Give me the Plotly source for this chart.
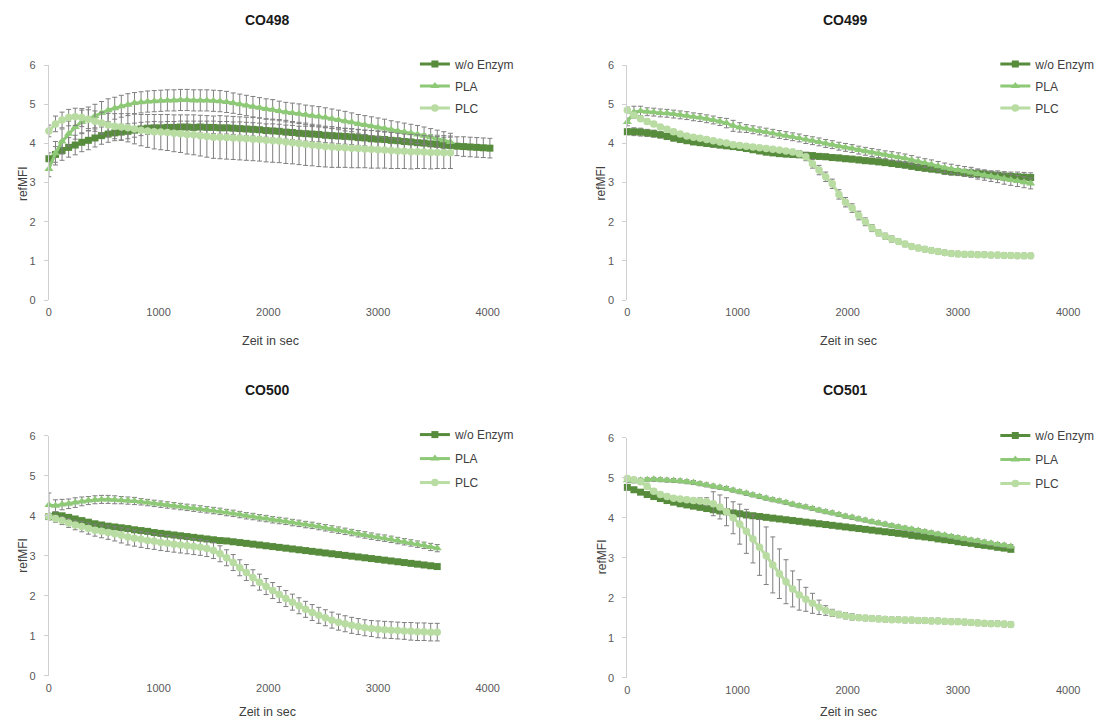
import plotly.graph_objects as go

W, H = 1115, 724          # target picture size
OFF = 8                   # default page margin of the html body
FW, FH = W - OFF, H - OFF # figure size so that it fills the window exactly
STEP = 60  # seconds between readings

SERIES_NAMES = ["w/o Enzym", "PLA", "PLC"]
COLORS = ["#578c3c", "#8ec977", "#b8dca2"]
SYMBOLS = ["square", "triangle-up", "circle"]
X_TICKS = [0, 1000, 2000, 3000, 4000]
Y_TICKS = [0, 1, 2, 3, 4, 5, 6]
TITLES = ["CO498", "CO499", "CO500", "CO501"]
X_TITLE = "Zeit in sec"
Y_TITLE = "refMFI"

# ---------------- CO498 ----------------
co498_wo = [3.61, 3.72, 3.82, 3.90, 3.96, 4.03, 4.08, 4.14, 4.20, 4.24,
            4.27, 4.29, 4.31, 4.34, 4.37, 4.39, 4.40, 4.40, 4.41, 4.41,
            4.42, 4.42, 4.41, 4.42, 4.41, 4.41, 4.40, 4.40, 4.39, 4.38,
            4.37, 4.36, 4.35, 4.33, 4.32, 4.31, 4.29, 4.28, 4.26, 4.25,
            4.24, 4.23, 4.21, 4.20, 4.19, 4.18, 4.17, 4.15, 4.14, 4.12,
            4.11, 4.10, 4.08, 4.07, 4.05, 4.04, 4.02, 4.01, 3.99, 3.98,
            3.96, 3.95, 3.93, 3.92, 3.91, 3.90, 3.89, 3.88]
co498_wo_err = [0.15, 0.20, 0.25, 0.25, 0.25, 0.24, 0.24, 0.23, 0.22, 0.21,
                0.20, 0.20, 0.19, 0.18, 0.17, 0.16, 0.16, 0.15, 0.15, 0.15,
                0.15, 0.15, 0.16, 0.15, 0.16, 0.16, 0.16, 0.16, 0.16, 0.17,
                0.17, 0.17, 0.17, 0.17, 0.18, 0.18, 0.18, 0.18, 0.18, 0.19,
                0.19, 0.19, 0.19, 0.19, 0.20, 0.20, 0.20, 0.20, 0.20, 0.21,
                0.21, 0.21, 0.21, 0.22, 0.22, 0.22, 0.22, 0.23, 0.23, 0.23,
                0.24, 0.24, 0.24, 0.25, 0.25, 0.25, 0.25, 0.25]
co498_pla = [3.35, 3.75, 4.05, 4.25, 4.42, 4.55, 4.63, 4.70, 4.78, 4.85,
             4.90, 4.95, 4.99, 5.03, 5.05, 5.07, 5.08, 5.09, 5.10, 5.10,
             5.11, 5.11, 5.10, 5.10, 5.10, 5.09, 5.08, 5.06, 5.03, 5.00,
             4.97, 4.94, 4.91, 4.88, 4.86, 4.83, 4.80, 4.78, 4.76, 4.73,
             4.71, 4.69, 4.66, 4.63, 4.60, 4.57, 4.54, 4.50, 4.47, 4.44,
             4.41, 4.38, 4.35, 4.32, 4.29, 4.26, 4.23, 4.20, 4.16, 4.12,
             4.08, 4.04]
co498_pla_err = [0.20, 0.30, 0.32, 0.32, 0.31, 0.30, 0.30, 0.30, 0.29, 0.29,
                 0.28, 0.28, 0.28, 0.27, 0.27, 0.27, 0.27, 0.27, 0.27, 0.27,
                 0.27, 0.27, 0.27, 0.27, 0.27, 0.27, 0.27, 0.27, 0.26, 0.26,
                 0.26, 0.26, 0.26, 0.26, 0.26, 0.25, 0.25, 0.25, 0.25, 0.25,
                 0.25, 0.25, 0.25, 0.25, 0.25, 0.25, 0.24, 0.24, 0.24, 0.24,
                 0.24, 0.24, 0.23, 0.23, 0.23, 0.23, 0.23, 0.22, 0.22, 0.22,
                 0.22, 0.22]
co498_plc = [4.32, 4.50, 4.60, 4.66, 4.68, 4.66, 4.62, 4.57, 4.52, 4.47,
             4.44, 4.42, 4.40, 4.37, 4.34, 4.32, 4.30, 4.29, 4.28, 4.26,
             4.25, 4.23, 4.22, 4.20, 4.18, 4.16, 4.16, 4.15, 4.14, 4.13,
             4.12, 4.11, 4.10, 4.08, 4.07, 4.06, 4.04, 4.02, 4.00, 3.98,
             3.96, 3.94, 3.92, 3.91, 3.90, 3.89, 3.88, 3.87, 3.86, 3.85,
             3.84, 3.83, 3.82, 3.81, 3.80, 3.79, 3.79, 3.78, 3.77, 3.77,
             3.76, 3.76]
co498_plc_err = [0.15, 0.20, 0.20, 0.21, 0.22, 0.23, 0.24, 0.26, 0.28, 0.30,
                 0.32, 0.34, 0.36, 0.38, 0.40, 0.42, 0.44, 0.45, 0.46, 0.47,
                 0.48, 0.50, 0.51, 0.52, 0.53, 0.54, 0.55, 0.55, 0.55, 0.55,
                 0.55, 0.55, 0.55, 0.55, 0.55, 0.55, 0.55, 0.54, 0.54, 0.54,
                 0.53, 0.53, 0.52, 0.52, 0.51, 0.50, 0.50, 0.49, 0.48, 0.48,
                 0.47, 0.46, 0.46, 0.45, 0.44, 0.44, 0.43, 0.42, 0.42, 0.41,
                 0.40, 0.40]

# ---------------- CO499 ----------------
co499_wo = [4.30, 4.30, 4.29, 4.27, 4.25, 4.22, 4.18, 4.14, 4.10, 4.07,
            4.04, 4.02, 4.00, 3.98, 3.96, 3.94, 3.92, 3.90, 3.87, 3.84,
            3.81, 3.78, 3.76, 3.74, 3.73, 3.72, 3.71, 3.70, 3.69, 3.67,
            3.66, 3.64, 3.63, 3.61, 3.60, 3.58, 3.56, 3.55, 3.53, 3.51,
            3.49, 3.47, 3.45, 3.42, 3.39, 3.37, 3.35, 3.33, 3.30, 3.28,
            3.27, 3.25, 3.24, 3.23, 3.22, 3.20, 3.19, 3.17, 3.16, 3.15,
            3.14, 3.13]
co499_wo_err = [0.08, 0.10, 0.10, 0.09, 0.09, 0.08, 0.08, 0.08, 0.07, 0.07,
                0.07, 0.07, 0.07, 0.07, 0.07, 0.07, 0.07, 0.07, 0.07, 0.07,
                0.07, 0.07, 0.07, 0.07, 0.07, 0.07, 0.07, 0.07, 0.07, 0.07,
                0.07, 0.07, 0.07, 0.07, 0.07, 0.07, 0.07, 0.07, 0.07, 0.07,
                0.08, 0.08, 0.08, 0.08, 0.08, 0.08, 0.08, 0.08, 0.09, 0.09,
                0.09, 0.09, 0.10, 0.10, 0.10, 0.10, 0.11, 0.11, 0.11, 0.12,
                0.12, 0.12]
co499_pla = [4.55, 4.80, 4.83, 4.81, 4.80, 4.78, 4.77, 4.75, 4.73, 4.71,
             4.68, 4.66, 4.63, 4.60, 4.56, 4.52, 4.45, 4.41, 4.38, 4.35,
             4.32, 4.29, 4.26, 4.23, 4.20, 4.17, 4.14, 4.10, 4.07, 4.04,
             4.00, 3.97, 3.93, 3.90, 3.87, 3.83, 3.80, 3.77, 3.74, 3.71,
             3.68, 3.65, 3.62, 3.58, 3.54, 3.50, 3.46, 3.42, 3.38, 3.35,
             3.32, 3.29, 3.26, 3.22, 3.19, 3.16, 3.13, 3.10, 3.07, 3.04,
             3.01, 2.98]
co499_pla_err = [0.10, 0.15, 0.12, 0.10, 0.10, 0.10, 0.10, 0.10, 0.10, 0.10,
                 0.10, 0.10, 0.10, 0.10, 0.10, 0.12, 0.14, 0.12, 0.10, 0.10,
                 0.10, 0.10, 0.10, 0.10, 0.10, 0.10, 0.10, 0.10, 0.10, 0.10,
                 0.10, 0.10, 0.10, 0.10, 0.10, 0.10, 0.10, 0.10, 0.10, 0.10,
                 0.11, 0.11, 0.11, 0.11, 0.11, 0.11, 0.12, 0.12, 0.12, 0.12,
                 0.12, 0.12, 0.13, 0.13, 0.13, 0.13, 0.13, 0.14, 0.14, 0.14,
                 0.14, 0.14]
co499_plc = [4.85, 4.72, 4.63, 4.56, 4.50, 4.42, 4.36, 4.30, 4.24, 4.19,
             4.16, 4.13, 4.10, 4.07, 4.04, 4.01, 3.97, 3.95, 3.93, 3.91,
             3.89, 3.87, 3.85, 3.83, 3.81, 3.78, 3.74, 3.66, 3.48, 3.32,
             3.15, 2.97, 2.70, 2.50, 2.35, 2.16, 2.00, 1.84, 1.72, 1.63,
             1.56, 1.50, 1.43, 1.37, 1.33, 1.30, 1.27, 1.24, 1.21, 1.19,
             1.18, 1.17, 1.17, 1.16, 1.16, 1.15, 1.15, 1.14, 1.14, 1.13,
             1.13, 1.13]
co499_plc_err = [0.08, 0.07, 0.06, 0.06, 0.06, 0.06, 0.06, 0.06, 0.06, 0.06,
                 0.06, 0.06, 0.06, 0.06, 0.06, 0.06, 0.06, 0.06, 0.06, 0.06,
                 0.06, 0.06, 0.06, 0.06, 0.06, 0.07, 0.08, 0.10, 0.11, 0.12,
                 0.12, 0.12, 0.12, 0.12, 0.11, 0.11, 0.10, 0.09, 0.08, 0.08,
                 0.08, 0.07, 0.07, 0.07, 0.07, 0.07, 0.07, 0.07, 0.07, 0.07,
                 0.07, 0.07, 0.07, 0.07, 0.07, 0.07, 0.07, 0.07, 0.07, 0.07,
                 0.07, 0.07]

# ---------------- CO500 ----------------
co500_wo = [3.98, 4.02, 4.00, 3.96, 3.92, 3.88, 3.84, 3.80, 3.77, 3.74,
            3.72, 3.70, 3.68, 3.65, 3.63, 3.61, 3.58, 3.56, 3.54, 3.52,
            3.50, 3.48, 3.46, 3.44, 3.42, 3.40, 3.38, 3.37, 3.35, 3.33,
            3.31, 3.29, 3.27, 3.25, 3.23, 3.21, 3.19, 3.17, 3.15, 3.13,
            3.11, 3.09, 3.07, 3.05, 3.03, 3.01, 2.99, 2.97, 2.95, 2.93,
            2.91, 2.89, 2.87, 2.85, 2.83, 2.81, 2.79, 2.77, 2.75, 2.73]
co500_wo_err = [0.08, 0.05, 0.05, 0.05, 0.05, 0.05, 0.05, 0.05, 0.05, 0.05,
                0.05, 0.05, 0.05, 0.05, 0.05, 0.05, 0.05, 0.05, 0.05, 0.05,
                0.05, 0.05, 0.05, 0.05, 0.05, 0.05, 0.05, 0.05, 0.05, 0.05,
                0.05, 0.05, 0.05, 0.05, 0.05, 0.05, 0.05, 0.05, 0.05, 0.05,
                0.05, 0.05, 0.05, 0.05, 0.05, 0.05, 0.05, 0.05, 0.05, 0.05,
                0.05, 0.05, 0.05, 0.05, 0.05, 0.05, 0.05, 0.05, 0.05, 0.06]
co500_pla = [4.27, 4.25, 4.28, 4.30, 4.33, 4.36, 4.38, 4.40, 4.41, 4.41,
             4.40, 4.39, 4.38, 4.37, 4.35, 4.33, 4.31, 4.29, 4.27, 4.25,
             4.23, 4.21, 4.19, 4.17, 4.15, 4.13, 4.11, 4.08, 4.06, 4.03,
             4.00, 3.98, 3.95, 3.93, 3.90, 3.88, 3.86, 3.83, 3.81, 3.78,
             3.76, 3.73, 3.70, 3.67, 3.64, 3.61, 3.58, 3.55, 3.52, 3.49,
             3.46, 3.44, 3.41, 3.38, 3.35, 3.32, 3.29, 3.26, 3.22, 3.19]
co500_pla_err = [0.30, 0.15, 0.13, 0.12, 0.12, 0.11, 0.10, 0.10, 0.10, 0.10,
                 0.10, 0.09, 0.09, 0.09, 0.08, 0.08, 0.08, 0.08, 0.08, 0.08,
                 0.08, 0.08, 0.08, 0.08, 0.08, 0.08, 0.08, 0.08, 0.08, 0.08,
                 0.08, 0.08, 0.08, 0.08, 0.08, 0.08, 0.08, 0.08, 0.08, 0.08,
                 0.08, 0.08, 0.08, 0.08, 0.08, 0.08, 0.08, 0.08, 0.08, 0.08,
                 0.08, 0.08, 0.08, 0.08, 0.08, 0.08, 0.08, 0.08, 0.09, 0.09]
co500_plc = [3.98, 3.93, 3.88, 3.82, 3.77, 3.73, 3.68, 3.64, 3.61, 3.58,
             3.55, 3.51, 3.47, 3.44, 3.41, 3.38, 3.36, 3.33, 3.31, 3.29,
             3.27, 3.25, 3.23, 3.21, 3.18, 3.13, 3.05, 2.95, 2.83, 2.70,
             2.58, 2.45, 2.34, 2.23, 2.13, 2.03, 1.93, 1.84, 1.75, 1.66,
             1.58, 1.51, 1.45, 1.39, 1.34, 1.30, 1.26, 1.23, 1.20, 1.18,
             1.16, 1.15, 1.14, 1.13, 1.12, 1.11, 1.10, 1.10, 1.09, 1.09]
co500_plc_err = [0.08, 0.09, 0.10, 0.11, 0.12, 0.13, 0.14, 0.15, 0.16, 0.17,
                 0.18, 0.19, 0.20, 0.20, 0.20, 0.20, 0.20, 0.20, 0.20, 0.20,
                 0.20, 0.20, 0.20, 0.20, 0.20, 0.20, 0.20, 0.20, 0.20, 0.20,
                 0.20, 0.20, 0.20, 0.20, 0.20, 0.20, 0.20, 0.20, 0.20, 0.20,
                 0.20, 0.20, 0.20, 0.20, 0.20, 0.20, 0.20, 0.20, 0.20, 0.20,
                 0.21, 0.21, 0.21, 0.21, 0.21, 0.22, 0.22, 0.22, 0.22, 0.22]

# ---------------- CO501 ----------------
co501_wo = [4.76, 4.70, 4.64, 4.58, 4.53, 4.48, 4.43, 4.39, 4.35, 4.32,
            4.29, 4.26, 4.23, 4.20, 4.17, 4.15, 4.12, 4.10, 4.07, 4.05,
            4.03, 4.01, 3.99, 3.97, 3.95, 3.93, 3.91, 3.89, 3.87, 3.85,
            3.83, 3.81, 3.79, 3.77, 3.75, 3.73, 3.71, 3.69, 3.67, 3.65,
            3.63, 3.61, 3.59, 3.56, 3.54, 3.52, 3.50, 3.47, 3.45, 3.43,
            3.40, 3.38, 3.36, 3.33, 3.31, 3.29, 3.26, 3.24, 3.21]
co501_wo_err = [0.06, 0.05, 0.05, 0.05, 0.05, 0.05, 0.05, 0.05, 0.05, 0.05,
                0.05, 0.05, 0.05, 0.05, 0.05, 0.05, 0.05, 0.05, 0.05, 0.05,
                0.05, 0.05, 0.05, 0.05, 0.05, 0.05, 0.05, 0.05, 0.05, 0.05,
                0.05, 0.05, 0.05, 0.05, 0.05, 0.05, 0.05, 0.05, 0.05, 0.05,
                0.05, 0.05, 0.05, 0.05, 0.05, 0.05, 0.05, 0.05, 0.05, 0.05,
                0.05, 0.05, 0.05, 0.05, 0.05, 0.05, 0.05, 0.05, 0.05]
co501_pla = [4.94, 4.92, 4.94, 4.95, 4.96, 4.95, 4.94, 4.93, 4.92, 4.90,
             4.88, 4.85, 4.82, 4.79, 4.76, 4.73, 4.69, 4.65, 4.61, 4.57,
             4.53, 4.49, 4.45, 4.42, 4.38, 4.34, 4.30, 4.27, 4.23, 4.19,
             4.15, 4.12, 4.08, 4.04, 4.01, 3.97, 3.94, 3.90, 3.87, 3.84,
             3.80, 3.77, 3.74, 3.71, 3.68, 3.65, 3.62, 3.59, 3.56, 3.53,
             3.50, 3.47, 3.44, 3.42, 3.39, 3.36, 3.33, 3.31, 3.28]
co501_pla_err = [0.06, 0.05, 0.05, 0.05, 0.05, 0.05, 0.05, 0.05, 0.05, 0.05,
                 0.05, 0.05, 0.05, 0.05, 0.05, 0.05, 0.05, 0.05, 0.05, 0.05,
                 0.05, 0.05, 0.05, 0.05, 0.05, 0.05, 0.05, 0.05, 0.05, 0.05,
                 0.05, 0.05, 0.05, 0.05, 0.05, 0.05, 0.05, 0.05, 0.05, 0.05,
                 0.05, 0.05, 0.05, 0.05, 0.05, 0.05, 0.05, 0.05, 0.05, 0.05,
                 0.05, 0.05, 0.05, 0.05, 0.05, 0.05, 0.05, 0.05, 0.05]
co501_plc = [4.98, 4.95, 4.90, 4.78, 4.66, 4.58, 4.53, 4.49, 4.47, 4.45,
             4.43, 4.42, 4.40, 4.35, 4.27, 4.15, 4.00, 3.84, 3.66, 3.47,
             3.26, 3.05, 2.82, 2.60, 2.40, 2.22, 2.07, 1.96, 1.86, 1.76,
             1.68, 1.62, 1.58, 1.55, 1.52, 1.50, 1.49, 1.48, 1.47, 1.46,
             1.45, 1.45, 1.44, 1.44, 1.43, 1.43, 1.42, 1.42, 1.41, 1.40,
             1.40, 1.39, 1.38, 1.37, 1.36, 1.35, 1.35, 1.34, 1.33]
co501_plc_err = [0.06, 0.06, 0.06, 0.06, 0.06, 0.06, 0.06, 0.06, 0.06, 0.06,
                 0.06, 0.08, 0.10, 0.30, 0.30, 0.35, 0.40, 0.50, 0.55, 0.60,
                 0.70, 0.72, 0.70, 0.62, 0.55, 0.45, 0.38, 0.30, 0.25, 0.18,
                 0.12, 0.09, 0.08, 0.08, 0.08, 0.07, 0.07, 0.07, 0.07, 0.07,
                 0.07, 0.07, 0.07, 0.07, 0.07, 0.07, 0.07, 0.07, 0.07, 0.07,
                 0.07, 0.07, 0.07, 0.07, 0.07, 0.07, 0.07, 0.07, 0.07]

DATA = [
    [(co498_wo, co498_wo_err), (co498_pla, co498_pla_err), (co498_plc, co498_plc_err)],
    [(co499_wo, co499_wo_err), (co499_pla, co499_pla_err), (co499_plc, co499_plc_err)],
    [(co500_wo, co500_wo_err), (co500_pla, co500_pla_err), (co500_plc, co500_plc_err)],
    [(co501_wo, co501_wo_err), (co501_pla, co501_pla_err), (co501_plc, co501_plc_err)],
]

# ---------------- layout (pixel geometry in the final picture) ----------------
X_MAX = 4400
PANELS = [
    dict(x0=46, sx=0.1100, y0=299, y6=60, tx=265, ty=14, xt=(268, 341), yt=(20, 180),
         lg=(413, 44), gap=3),
    dict(x0=626, sx=0.1105, y0=299, y6=60, tx=845, ty=14, xt=(848, 341), yt=(600, 180),
         lg=(995, 44), gap=3),
    dict(x0=46, sx=0.1100, y0=681, y6=437, tx=265, ty=390, xt=(265, 718), yt=(20, 558),
         lg=(413, 421), gap=5),
    dict(x0=626, sx=0.1105, y0=683, y6=439, tx=845, ty=390, xt=(848, 718), yt=(600, 560),
         lg=(995, 422), gap=5),
]


def fx(px):
    return (px - OFF) / FW


def fy(py):
    return 1 - (py - OFF) / FH


FONT = "Liberation Sans, Arial, Helvetica, sans-serif"
TEXT_COL = "#404040"
TICK_COL = "#595959"
AXIS_COL = "#d0d0d0"
ERR_COL = "#7f7f7f"

fig = go.Figure()
layout = dict(
    width=FW, height=FH, autosize=False,
    margin=dict(l=0, r=0, t=0, b=0),
    paper_bgcolor="white", plot_bgcolor="white",
    showlegend=True,
    font=dict(family=FONT, color=TEXT_COL),
    annotations=[],
)

for p_i, (panel, series) in enumerate(zip(PANELS, DATA)):
    sfx = "" if p_i == 0 else str(p_i + 1)
    xa, ya = "x" + sfx, "y" + sfx
    leg = "legend" + sfx
    for s_i, (vals, errs) in enumerate(series):
        times = [i * STEP for i in range(len(vals))]
        fig.add_trace(go.Scatter(
            x=times, y=vals, xaxis=xa, yaxis=ya,
            name=SERIES_NAMES[s_i], legend=leg, legendgroup=f"{p_i}-{s_i}",
            mode="lines+markers", cliponaxis=False,
            line=dict(color=COLORS[s_i], width=3),
            marker=dict(symbol=SYMBOLS[s_i], size=[7, 8, 7.5][s_i], color=COLORS[s_i]),
            error_y=dict(type="data", array=errs, visible=True, color=ERR_COL,
                         thickness=1, width=2.5),
        ))

    layout["xaxis" + sfx] = dict(
        domain=[fx(panel["x0"]), fx(panel["x0"] + X_MAX * panel["sx"])],
        range=[0, X_MAX], anchor=ya,
        tickvals=X_TICKS, ticktext=[str(v) for v in X_TICKS],
        showgrid=False, zeroline=False, showline=False, ticks="",
        tickfont=dict(size=11, color=TICK_COL, family=FONT),
        ticklabelstandoff=4,
    )
    layout["yaxis" + sfx] = dict(
        domain=[fy(panel["y0"]), fy(panel["y6"])], range=[0, 6], anchor=xa,
        tickvals=Y_TICKS, showgrid=False, zeroline=False,
        showline=True, linecolor=AXIS_COL, linewidth=1,
        ticks="outside", ticklen=4, tickcolor=AXIS_COL,
        tickfont=dict(size=11, color=TICK_COL, family=FONT),
        ticklabelstandoff=6,
    )
    layout[leg] = dict(
        x=fx(panel["lg"][0]), y=fy(panel["lg"][1]),
        xanchor="left", yanchor="top",
        bgcolor="rgba(0,0,0,0)", borderwidth=0,
        font=dict(size=12, color=TEXT_COL, family=FONT),
        tracegroupgap=panel["gap"], itemclick=False, itemdoubleclick=False,
    )
    layout["annotations"].append(dict(
        text=f"<b>{TITLES[p_i]}</b>", x=fx(panel["tx"]), y=fy(panel["ty"]),
        xref="paper", yref="paper", showarrow=False, xanchor="center", yanchor="middle",
        font=dict(size=14, color="#1a1a1a", family=FONT),
    ))
    layout["annotations"].append(dict(
        text=X_TITLE, x=fx(panel["xt"][0]), y=fy(panel["xt"][1]),
        xref="paper", yref="paper", showarrow=False, xanchor="center", yanchor="middle",
        font=dict(size=12.5, color=TEXT_COL, family=FONT),
    ))
    layout["annotations"].append(dict(
        text=Y_TITLE, x=fx(panel["yt"][0]), y=fy(panel["yt"][1]), textangle=-90,
        xref="paper", yref="paper", showarrow=False, xanchor="center", yanchor="middle",
        font=dict(size=12, color=TEXT_COL, family=FONT),
    ))

fig.update_layout(**layout)
fig.write_html("out.html")
